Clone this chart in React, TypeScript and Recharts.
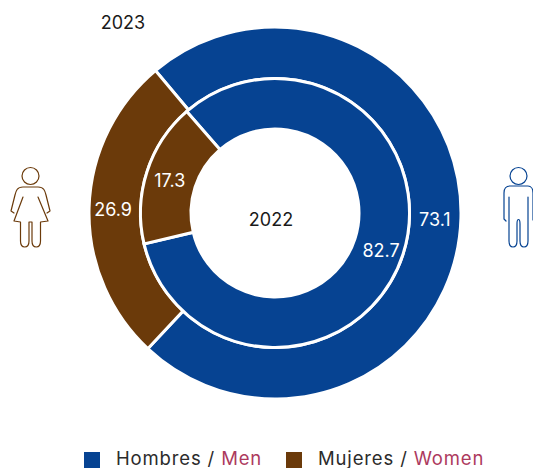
import React from 'react';
import { PieChart, Pie, Cell, Legend } from 'recharts';

const categories = ['Hombres / Men', 'Mujeres / Women'];
const values2023 = [73.1, 26.9];
const values2022 = [82.7, 17.3];
const colors = ['#064392', '#6b3a0a'];

// where each value label sits: angle in degrees, radius in px (labels are not centred in the slices)
const labelSpots2023 = [[-2.5, 160], [178.6, 162]];
const labelSpots2022 = [[-19.7, 112.6], [163, 110]];

const CX = 275;
const CY = 213;
const FONT = 'Inter, "Open Sans", sans-serif';
const RAD = Math.PI / 180;

const makeLabel = (spots: number[][]) => (props: any) => {
  const [angle, radius] = spots[props.index];
  return (
    <text
      x={CX + radius * Math.cos(angle * RAD)}
      y={CY - radius * Math.sin(angle * RAD)}
      fill="#fff"
      fontSize={18}
      fontFamily={FONT}
      textAnchor="middle"
      dominantBaseline="central"
    >
      {props.value}
    </text>
  );
};

const LegendRow = () => (
  <div style={{ display: 'flex', fontFamily: FONT, fontSize: 18.5, letterSpacing: 0.85, lineHeight: '16px', color: '#2b2b2b', whiteSpace: 'nowrap' }}>
    {categories.map((name, i) => {
      const [es, en] = name.split(' / ');
      return (
        <div key={name} style={{ display: 'flex', alignItems: 'center', height: 16, width: i === 0 ? 202 : 200 }}>
          <span style={{ width: 16, height: 16, background: colors[i], marginRight: 16, flexShrink: 0 }} />
          <span style={{ position: 'relative', top: -2 }}>
            {es} / <span style={{ color: '#ad3a5e' }}>{en}</span>
          </span>
        </div>
      );
    })}
  </div>
);

const WomanIcon = () => (
  <g fill="none" stroke="#6b3a0a" strokeWidth={1.2} strokeLinejoin="round" strokeLinecap="round">
    <circle cx={30.5} cy={176} r={8.5} />
    <path d="M23 187 C17 187 16 191 15 195 L11 211 L14 213 M23 197 L14 221 L20.5 222 L20.5 241 C20.5 249 29 249 29 241 L29 222 M32 222 L32 241 C32 249 40.5 249 40.5 241 L40.5 222 L48 221 L38 197 M38 187 C44 187 45 191 46 195 L50 211 L47 213 M23 187 L38 187 M29 222 L32 222" />
  </g>
);

const ManIcon = () => (
  <g fill="none" stroke="#064392" strokeWidth={1.2} strokeLinejoin="round" strokeLinecap="round">
    <circle cx={518.5} cy={176} r={8.5} />
    <path d="M510 186 L528 186 C531 186 533 189 533 193 L533 220 M510 186 C506 186 504 189 504 193 L504 219 L506 221 M509 197 L509 241 C509 249 517 249 517 241 L517 224 C517 218 520 218 520 224 L520 241 C520 249 528 249 528 241 L528 197" />
  </g>
);

export default function App() {
  return (
    <div style={{ position: 'fixed', top: 0, left: 0, width: 533, height: 468, overflow: 'hidden', background: '#fff' }}>
      <PieChart width={533} height={468} margin={{ top: 0, right: 0, bottom: 0, left: 0 }}>
        <Pie
          data={categories.map((name, i) => ({ name, value: values2023[i] }))}
          dataKey="value"
          cx={CX}
          cy={CY}
          innerRadius={134.5}
          outerRadius={186}
          startAngle={130}
          endAngle={-230}
          stroke="#fff"
          strokeWidth={3}
          label={makeLabel(labelSpots2023)}
          labelLine={false}
          isAnimationActive={false}
        >
          {categories.map((name, i) => <Cell key={name} fill={colors[i]} />)}
        </Pie>
        <Pie
          data={categories.map((name, i) => ({ name, value: values2022[i] }))}
          dataKey="value"
          cx={CX}
          cy={CY}
          innerRadius={84}
          outerRadius={134.5}
          startAngle={131}
          endAngle={-229}
          stroke="#fff"
          strokeWidth={3}
          label={makeLabel(labelSpots2022)}
          labelLine={false}
          isAnimationActive={false}
        >
          {categories.map((name, i) => <Cell key={name} fill={colors[i]} />)}
        </Pie>
        <text x={123} y={22} textAnchor="middle" dominantBaseline="central" fontSize={18} fontFamily={FONT} fill="#1a1a1a">2023</text>
        <text x={271} y={219} textAnchor="middle" dominantBaseline="central" fontSize={18} fontFamily={FONT} fill="#1a1a1a">2022</text>
        <WomanIcon />
        <ManIcon />
        <Legend content={<LegendRow />} wrapperStyle={{ position: 'absolute', left: 84, top: 452, width: 420, bottom: 'auto' }} />
      </PieChart>
    </div>
  );
}
